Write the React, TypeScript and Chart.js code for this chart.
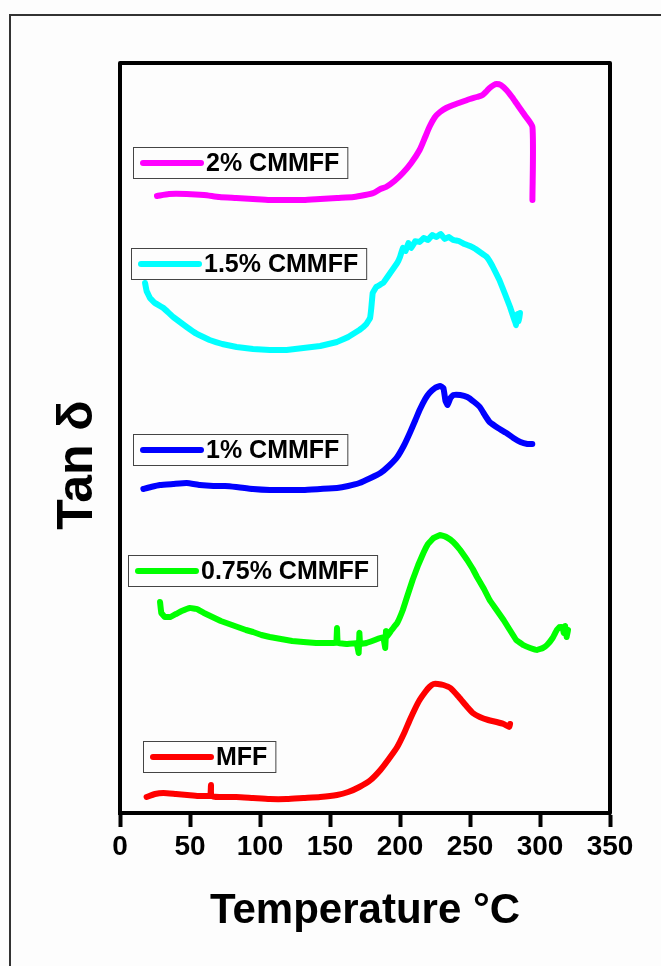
import React, { useEffect, useRef } from "react";
import { Chart, registerables } from "chart.js";

Chart.register(...registerables);

// Tan δ curves (vertically offset, arbitrary units) vs temperature in °C
const mffT = [19, 25, 31, 40, 48, 56, 63, 64.5, 65, 65.5, 72, 83, 95, 107, 119, 131, 143, 155, 163, 171, 179, 186, 192, 198, 203, 207, 211, 214, 218, 221, 224, 227, 231, 236, 242, 248, 252, 257, 263, 269, 274, 278, 278.6];
const mffV = [1.6, 1.9, 2.0, 1.9, 1.8, 1.7, 1.7, 1.7, 2.8, 1.7, 1.6, 1.6, 1.5, 1.4, 1.4, 1.5, 1.6, 1.8, 2.1, 2.6, 3.3, 4.3, 5.4, 6.6, 8.0, 9.3, 10.5, 11.3, 12.1, 12.6, 12.9, 12.9, 12.8, 12.5, 11.6, 10.6, 10.0, 9.6, 9.3, 9.1, 8.9, 8.6, 8.9];

const c075T = [28.6, 29.5, 32, 36, 40, 44, 50, 55, 60, 66, 72, 78, 84, 90, 95, 101, 107, 115, 123, 131, 140, 148, 154.5, 155, 155.5, 162, 169, 170.5, 171, 171.5, 176, 182, 188, 189.5, 190, 190.5, 194, 198, 202, 205, 209, 213, 216.7, 220, 224, 228.6, 233, 238, 243, 248, 252, 255, 260, 264, 269, 274, 278, 283, 288, 293, 298, 302, 305, 309, 312, 314, 316, 317, 318, 319, 320];
const c075V = [21.1, 20.0, 19.6, 19.6, 19.9, 20.2, 20.5, 20.4, 20.0, 19.6, 19.2, 18.9, 18.6, 18.3, 18.1, 17.8, 17.6, 17.4, 17.2, 17.1, 17.0, 17.0, 17.0, 18.5, 17.0, 16.9, 17.0, 16.0, 18.0, 16.9, 17.0, 17.3, 17.6, 16.5, 18.2, 17.6, 18.3, 19.0, 20.3, 21.6, 23.3, 24.8, 26.0, 26.9, 27.5, 27.8, 27.6, 27.1, 26.3, 25.3, 24.4, 23.6, 22.4, 21.3, 20.3, 19.3, 18.4, 17.3, 16.8, 16.5, 16.3, 16.5, 16.8, 17.5, 18.3, 18.6, 18.6, 18.0, 18.7, 17.6, 18.3];

const c1T = [16.7, 22, 28.6, 38, 47.6, 57, 66.7, 75, 83, 95, 107, 119, 131, 143, 155, 163, 171, 179, 186, 192, 198, 203, 207, 211, 214, 218, 221, 225, 228.6, 231, 232.5, 234, 236, 238, 243, 248, 253, 257, 261, 264, 270, 276, 281, 286, 291, 294.5];
const c1V = [32.4, 32.6, 32.8, 32.9, 33.0, 32.8, 32.7, 32.7, 32.6, 32.4, 32.3, 32.3, 32.3, 32.4, 32.5, 32.7, 33.0, 33.5, 34.0, 34.7, 35.6, 36.8, 38.0, 39.3, 40.3, 41.4, 42.0, 42.5, 42.7, 42.5, 41.2, 40.8, 41.5, 41.8, 41.8, 41.6, 41.1, 40.6, 39.7, 39.1, 38.5, 38.0, 37.5, 37.1, 36.9, 36.9];

const c15T = [17.9, 19, 21.4, 25, 31, 38, 47.6, 55, 64, 73, 83.3, 95, 107, 119, 131, 143, 155, 163, 171, 176, 178.6, 179.5, 180.5, 183, 188, 193, 198, 200, 202, 204, 206, 208, 211, 214, 217, 220, 223, 226, 229, 232, 235, 238, 242, 246, 250, 254, 258, 262, 266, 271, 275, 278.6, 281, 283, 284, 285, 285.7];
const c15V = [53.0, 52.2, 51.5, 51.0, 50.5, 49.6, 48.6, 47.9, 47.3, 46.9, 46.6, 46.4, 46.3, 46.3, 46.5, 46.7, 47.1, 47.6, 48.3, 48.9, 49.5, 50.5, 52.0, 52.6, 53.0, 54.0, 55.0, 55.6, 56.5, 56.2, 57.0, 56.5, 57.2, 57.1, 57.5, 57.3, 57.8, 57.6, 57.9, 57.4, 57.6, 57.3, 57.2, 56.9, 56.7, 56.4, 56.0, 55.6, 54.7, 53.3, 51.9, 50.6, 49.6, 48.8, 49.9, 49.2, 50.0];

const c2T = [26.4, 35, 47.6, 60, 71, 83, 95, 107, 119, 131, 143, 155, 167, 175, 181, 186, 190, 196, 202, 208, 214, 218, 221, 225, 228.6, 233, 238, 244, 250, 255, 259, 262, 264, 267, 269, 272, 276, 280, 283, 289, 294.6, 294.6];
const c2V = [61.7, 61.9, 61.9, 61.8, 61.6, 61.5, 61.4, 61.3, 61.3, 61.3, 61.4, 61.5, 61.6, 61.8, 62.0, 62.4, 62.6, 63.2, 64.0, 65.0, 66.3, 67.6, 68.6, 69.6, 70.1, 70.5, 70.8, 71.1, 71.4, 71.6, 71.8, 72.2, 72.5, 72.8, 72.9, 72.8, 72.3, 71.6, 71.0, 69.8, 68.6, 61.3];

const seriesNames = ["MFF", "0.75% CMMFF", "1% CMMFF", "1.5% CMMFF", "2% CMMFF"];
const seriesColors = ["#ff0000", "#00ff00", "#0000ff", "#00ffff", "#ff00ff"];
const seriesT = [mffT, c075T, c1T, c15T, c2T];
const seriesV = [mffV, c075V, c1V, c15V, c2V];
// noisy traces are drawn straighter so their jitter stays tight
const seriesTension = [0.2, 0.04, 0.12, 0.04, 0.2];

const xTicks = [0, 50, 100, 150, 200, 250, 300, 350];

// legend boxes sit next to their own curve (canvas pixels: left, top)
const legendSpots = [
  { left: 143, top: 741 },
  { left: 128, top: 555 },
  { left: 133, top: 434 },
  { left: 131, top: 248 },
  { left: 133, top: 147 },
];

const FONT = "'Liberation Sans', Arial, sans-serif";

const decorPlugin = {
  id: "decor",
  beforeDraw(chart: any) {
    const ctx = chart.ctx;
    ctx.save();
    ctx.fillStyle = "#fdfdfd";
    ctx.fillRect(0, 0, chart.width, chart.height);
    // outer figure frame
    ctx.strokeStyle = "#333";
    ctx.lineWidth = 2;
    ctx.strokeRect(10, 15, chart.width + 20, chart.height + 20);
    ctx.restore();
  },
  afterDraw(chart: any) {
    const ctx = chart.ctx;
    const a = chart.chartArea;
    ctx.save();
    // plot frame
    ctx.strokeStyle = "#000";
    ctx.lineWidth = 4;
    ctx.lineJoin = "round";
    ctx.strokeRect(a.left, a.top, a.right - a.left, a.bottom - a.top);

    // y title
    ctx.fillStyle = "#000";
    ctx.font = `bold 50px ${FONT}`;
    ctx.textAlign = "center";
    ctx.textBaseline = "alphabetic";
    ctx.translate(92, 465);
    ctx.rotate(-Math.PI / 2);
    ctx.fillText("Tan δ", 0, 0);
    ctx.restore();

    // legend boxes
    ctx.save();
    ctx.font = `bold 25px ${FONT}`;
    chart.data.datasets.forEach((ds: any, i: number) => {
      const spot = legendSpots[i];
      const tw = ctx.measureText(ds.label).width;
      const w = 74 + tw + 7;
      const h = 31;
      ctx.fillStyle = "#fdfdfd";
      ctx.fillRect(spot.left, spot.top, w, h);
      ctx.strokeStyle = "#444";
      ctx.lineWidth = 1;
      ctx.strokeRect(spot.left + 0.5, spot.top + 0.5, w, h);
      const cy = spot.top + h / 2 + 0.5;
      ctx.strokeStyle = ds.borderColor;
      ctx.lineWidth = 6;
      ctx.lineCap = "round";
      ctx.beginPath();
      ctx.moveTo(spot.left + 10, cy);
      ctx.lineTo(spot.left + 68, cy);
      ctx.stroke();
      ctx.fillStyle = "#000";
      ctx.textAlign = "left";
      ctx.textBaseline = "middle";
      ctx.fillText(ds.label, spot.left + 73, cy + 1);
    });
    ctx.restore();
  },
};

export default function App() {
  const ref = useRef<HTMLCanvasElement>(null);

  useEffect(() => {
    if (!ref.current) return;
    const datasets = seriesNames.map((name, i) => ({
      label: name,
      data: seriesT[i].map((t, j) => ({ x: t, y: seriesV[i][j] })),
      borderColor: seriesColors[i],
      backgroundColor: seriesColors[i],
      borderWidth: 6,
      pointRadius: 0,
      tension: seriesTension[i],
      borderCapStyle: "round",
      borderJoinStyle: "round",
      fill: false,
    }));
    const chart = new Chart(ref.current, {
      type: "line",
      data: { datasets } as any,
      options: {
        responsive: false,
        animation: false,
        layout: { padding: { top: 63, left: 120, right: 51, bottom: 29 } },
        plugins: { legend: { display: false }, tooltip: { enabled: false } },
        scales: {
          x: {
            type: "linear",
            min: 0,
            max: 350,
            afterBuildTicks: (scale: any) => {
              scale.ticks = xTicks.map((v) => ({ value: v }));
            },
            grid: {
              drawOnChartArea: false,
              drawTicks: true,
              tickLength: 14,
              tickWidth: 4,
              tickColor: "#000",
            },
            border: { display: true, color: "#000", width: 4 },
            ticks: {
              color: "#000",
              font: { family: FONT, size: 28, weight: "bold" },
              padding: 3,
              maxRotation: 0,
              autoSkip: false,
            },
            title: {
              display: true,
              text: "Temperature °C",
              color: "#000",
              font: { family: FONT, size: 42, weight: "bold" },
              padding: { top: 20, bottom: 0 },
            },
          },
          y: { type: "linear", min: 0, max: 75, display: false },
        },
      } as any,
      plugins: [decorPlugin],
    });
    return () => chart.destroy();
  }, []);

  return (
    <div style={{ position: "fixed", left: 0, top: 0, width: 661, height: 966 }}>
      <canvas ref={ref} width={661} height={966} />
    </div>
  );
}
